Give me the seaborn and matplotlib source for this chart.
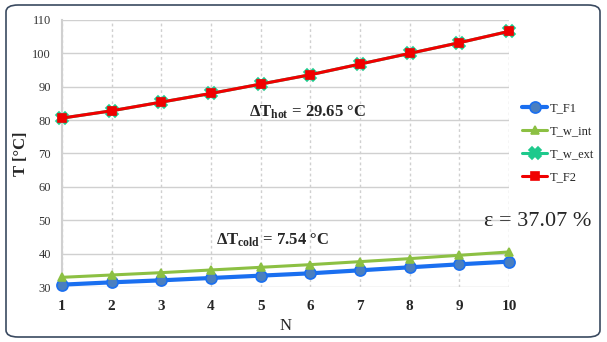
import matplotlib
matplotlib.use("Agg")
import matplotlib.pyplot as plt
import seaborn as sns
import pandas as pd
from matplotlib.patches import FancyBboxPatch

N = [1, 2, 3, 4, 5, 6, 7, 8, 9, 10]
T_F1 = [30.7, 31.4, 32.0, 32.7, 33.4, 34.1, 35.0, 35.9, 36.8, 37.6]
T_w_int = [32.9, 33.6, 34.3, 35.1, 35.9, 36.7, 37.6, 38.5, 39.5, 40.5]
T_w_ext = [80.6, 82.8, 85.4, 88.0, 90.8, 93.6, 96.8, 100.0, 103.2, 106.6]
T_F2 = [80.6, 82.8, 85.4, 88.0, 90.8, 93.6, 96.8, 100.0, 103.2, 106.6]
series_names = ["T_F1", "T_w_int", "T_w_ext", "T_F2"]
y_ticks = [30, 40, 50, 60, 70, 80, 90, 100, 110]

df = pd.DataFrame({
    "N": N * 4,
    "T": T_F1 + T_w_int + T_w_ext + T_F2,
    "series": sum([[s] * len(N) for s in series_names], []),
})

sns.set_style("white")
plt.rcParams["font.family"] = ["Liberation Serif", "DejaVu Serif"]
plt.rcParams["mathtext.fontset"] = "custom"
plt.rcParams["mathtext.rm"] = "Liberation Serif"
plt.rcParams["mathtext.it"] = "Liberation Serif:italic"
plt.rcParams["mathtext.bf"] = "Liberation Serif:bold"

fig = plt.figure(figsize=(6.07, 3.42), dpi=100)
ax = fig.add_axes([62 / 607, 1 - 287 / 342, (509 - 62) / 607, (287 - 20) / 342])

palette = {"T_F1": "#1a6ff0", "T_w_int": "#8cc043", "T_w_ext": "#1ec98c", "T_F2": "#f00000"}
markers = {"T_F1": "o", "T_w_int": "^", "T_w_ext": "X", "T_F2": "s"}
widths = {"T_F1": 3.0, "T_w_int": 2.2, "T_w_ext": 2.2, "T_F2": 2.2}
msizes = {"T_F1": 8, "T_w_int": 6, "T_w_ext": 8, "T_F2": 6}

for s in series_names:
    sub = df[df["series"] == s]
    mfc = "#4a7fc0" if s == "T_F1" else palette[s]
    sns.lineplot(data=sub, x="N", y="T", ax=ax, color=palette[s], marker=markers[s],
                 markersize=msizes[s], linewidth=widths[s], markerfacecolor=mfc,
                 markeredgecolor=palette[s], markeredgewidth=1.2, label=s,
                 clip_on=False, zorder=3)

ax.set_xlim(1, 10)
ax.set_ylim(30, 110)
ax.set_xticks(N)
ax.set_xticklabels([str(n) for n in N], fontweight="bold", fontsize=11)
ax.set_yticks(y_ticks)
ax.set_yticklabels([str(v) for v in y_ticks], fontsize=9, color="#333333")
ax.tick_params(axis="x", length=0, pad=9)
ax.tick_params(axis="y", length=0, pad=8)
ax.grid(axis="y", color="#d0d0d0", linewidth=1.0, linestyle="-")
ax.grid(axis="x", color="#d0d0d0", linewidth=1.0, linestyle=(0, (2, 2)))
for sp in ["top", "right", "bottom"]:
    ax.spines[sp].set_visible(False)
ax.spines["left"].set_color("#d0d0d0")
ax.spines["left"].set_linewidth(1.5)
ax.set_xlabel("N", fontsize=12, labelpad=4)
ax.set_ylabel("T [°C]", fontsize=12, fontweight="bold", labelpad=2)

leg = ax.legend(loc="upper left", bbox_to_anchor=(1.018, 0.71), frameon=False,
                fontsize=9, handlelength=2.0, labelspacing=0.87, handletextpad=0.2,
                borderaxespad=0)

ax.text(0.55, 0.655, r"$\mathbf{\Delta T_{hot}}$ = 29.65 °C", transform=ax.transAxes,
        ha="center", va="center", fontsize=12, fontweight="bold")
ax.text(0.47, 0.176, r"$\mathbf{\Delta T_{cold}}$ = 7.54 °C", transform=ax.transAxes,
        ha="center", va="center", fontsize=12, fontweight="bold")
fig.text(538 / 607, 1 - 222 / 342, "ε = 37.07 %", ha="center", va="center", fontsize=16)

border = FancyBboxPatch((6 / 607, 5 / 342), 594 / 607, 332 / 342,
                        boxstyle="round,pad=0,rounding_size=0.02",
                        transform=fig.transFigure, fill=False,
                        edgecolor="#3a4a60", linewidth=1.2)
fig.patches.append(border)

fig.savefig("out.png", dpi=100)
